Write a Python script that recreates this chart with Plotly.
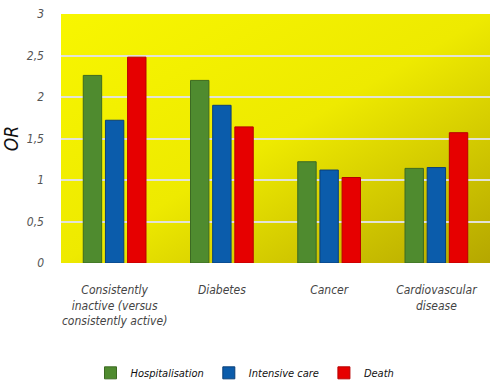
import plotly.graph_objects as go

categories = ["Consistently<br>inactive (versus<br>consistently active)", "Diabetes", "Cancer", "Cardiovascular<br>disease"]
hospitalisation = [2.26, 2.20, 1.22, 1.14]
intensive_care = [1.72, 1.90, 1.12, 1.15]
death = [2.48, 1.64, 1.03, 1.57]
y_ticks = [0, 0.5, 1, 1.5, 2, 2.5, 3]
y_tick_labels = ["0", "0,5", "1", "1,5", "2", "2,5", "3"]

FONT = "DejaVu Sans Condensed, Liberation Sans Narrow, sans-serif"

fig = go.Figure()
series = [
    ("Hospitalisation", hospitalisation, "#4f8b2f", "#3c6a22"),
    ("Intensive care", intensive_care, "#0b5cab", "#0a3f78"),
    ("Death", death, "#e60000", "#b80000"),
]
for name, vals, col, edge in series:
    fig.add_trace(go.Bar(x=categories, y=vals, name=name,
                         marker=dict(color=col, line=dict(color=edge, width=1))))

grad_svg = ("data:image/svg+xml;utf8,"
            "<svg xmlns='http://www.w3.org/2000/svg' width='100' height='100' preserveAspectRatio='none'>"
            "<defs><linearGradient id='g' x1='0' y1='0' x2='1' y2='1'>"
            "<stop offset='0' stop-color='%23f8f600'/>"
            "<stop offset='0.5' stop-color='%23eeea00'/>"
            "<stop offset='1' stop-color='%23b5a700'/>"
            "</linearGradient></defs>"
            "<rect width='100' height='100' fill='url(%23g)'/></svg>")

fig.update_layout(
    width=490, height=390,
    margin=dict(l=61, r=0, t=14, b=127),
    paper_bgcolor="white",
    plot_bgcolor="rgba(0,0,0,0)",
    barmode="group", bargap=0.38, bargroupgap=0.17,
    showlegend=True,
    legend=dict(orientation="h", xref="container", yref="container",
                x=0.5, xanchor="center", y=0.044, yanchor="middle",
                font=dict(family=FONT, size=11, color="#111111", style="italic"),
                itemwidth=30, traceorder="normal"),
    images=[dict(source=grad_svg, xref="paper", yref="paper", x=0, y=1,
                 sizex=1, sizey=1, sizing="stretch", layer="below")],
    xaxis=dict(showgrid=False, showline=False, ticks="", automargin=False,
               tickfont=dict(family=FONT, size=12, color="#444444", style="italic"),
               ticklabelstandoff=18),
    yaxis=dict(range=[0, 3], tickvals=y_ticks, ticktext=y_tick_labels,
               showgrid=True, gridcolor="#e2e2d8", gridwidth=2, automargin=False,
               zeroline=False, showline=False, ticks="",
               tickfont=dict(family=FONT, size=12, color="#555555", style="italic"),
               ticklabelstandoff=16,
               title=dict(text="OR", standoff=14,
                          font=dict(family=FONT, size=19, color="#111111", style="italic"))),
)

fig.write_html("out.html", config={"displayModeBar": False},
               post_script="document.body.style.margin='0';document.body.style.overflow='hidden';")
